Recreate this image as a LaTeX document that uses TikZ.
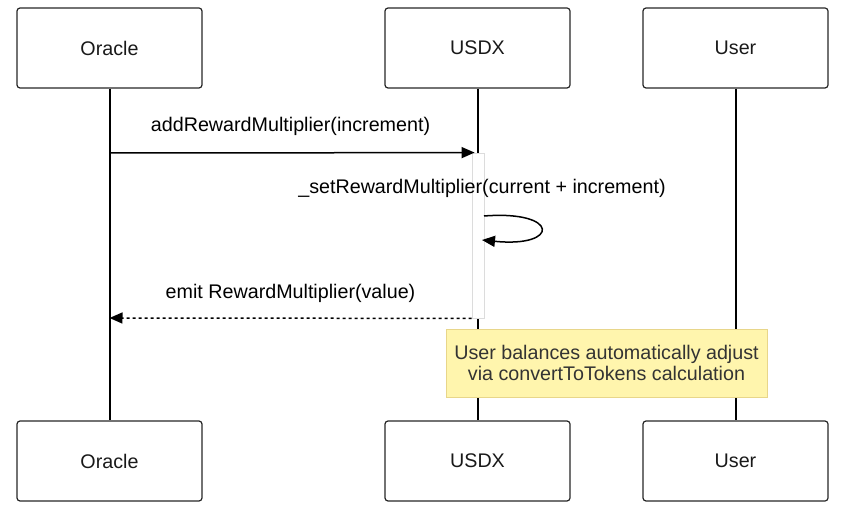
\documentclass[tikz,border=0pt]{standalone}
\usepackage{fontspec}
\setmainfont{Liberation Sans}
\usetikzlibrary{positioning,arrows.meta}

\begin{document}
\begin{tikzpicture}[x=1pt,y=-1pt,font=\fontsize{19.7}{21}\selectfont]
  % Colors
  \definecolor{notefill}{HTML}{FFF5AD}
  \definecolor{noteline}{HTML}{E8D68A}
  \definecolor{barline}{HTML}{DCDCDC}

  % Styles
  \tikzstyle{actor}=[draw=black!85,line width=1.2pt,rounded corners=3pt,
    minimum width=185pt,minimum height=80pt,text=black!90]
  \tikzstyle{lifeline}=[line width=2pt,black]
  \tikzstyle{activation}=[draw=barline,fill=white,line width=0.8pt,
    minimum width=12pt,minimum height=165pt,inner sep=0pt]
  \tikzstyle{message}=[line width=1.5pt,-{Triangle[length=13pt,width=11pt]}]
  \tikzstyle{reply}=[message,dash pattern=on 3pt off 3pt]
  \tikzstyle{note}=[draw=noteline,fill=notefill,line width=0.8pt,
    minimum width=321pt,minimum height=68pt,align=center,text=black!80]

  \useasboundingbox (0,0) rectangle (847,513);

  % Participants
  \node[actor] (oracle top) at (109.5,48) {Oracle};
  \node[actor] (usdx top) at (477.5,48) {USDX};
  \node[actor] (user top) at (735.5,48) {User};
  \node[actor] (oracle bot) at (109.5,461) {Oracle};
  \node[actor] (usdx bot) at (477.5,461) {USDX};
  \node[actor] (user bot) at (735.5,461) {User};

  % Lifelines
  \draw[lifeline] (oracle top) -- (oracle bot);
  \draw[lifeline] (usdx top) -- (usdx bot);
  \draw[lifeline] (user top) -- (user bot);

  % Activation
  \node[activation] (act) at (478,235.5) {};

  % Messages
  \coordinate (call from) at (109.5,153);
  \coordinate (reply to) at (109.5,318);
  \draw[message,shorten >=-3pt] (call from) -- (act.north west)
    node[midway,above=13pt] {addRewardMultiplier(increment)};

  \node (self text) at (482,188) {\_setRewardMultiplier(current + increment)};
  \coordinate (self out) at (484,216);
  \coordinate (self in) at (482,240);
  \draw[message] (self out) .. controls (560,210) and (560,248) .. (self in);

  \draw[reply] (act.south west) -- (reply to)
    node[midway,above=12pt] {emit RewardMultiplier(value)};

  % Note
  \node[note] (balances) at (606.5,363)
    {User balances automatically adjust\\via convertToTokens calculation};

\end{tikzpicture}
\end{document}
